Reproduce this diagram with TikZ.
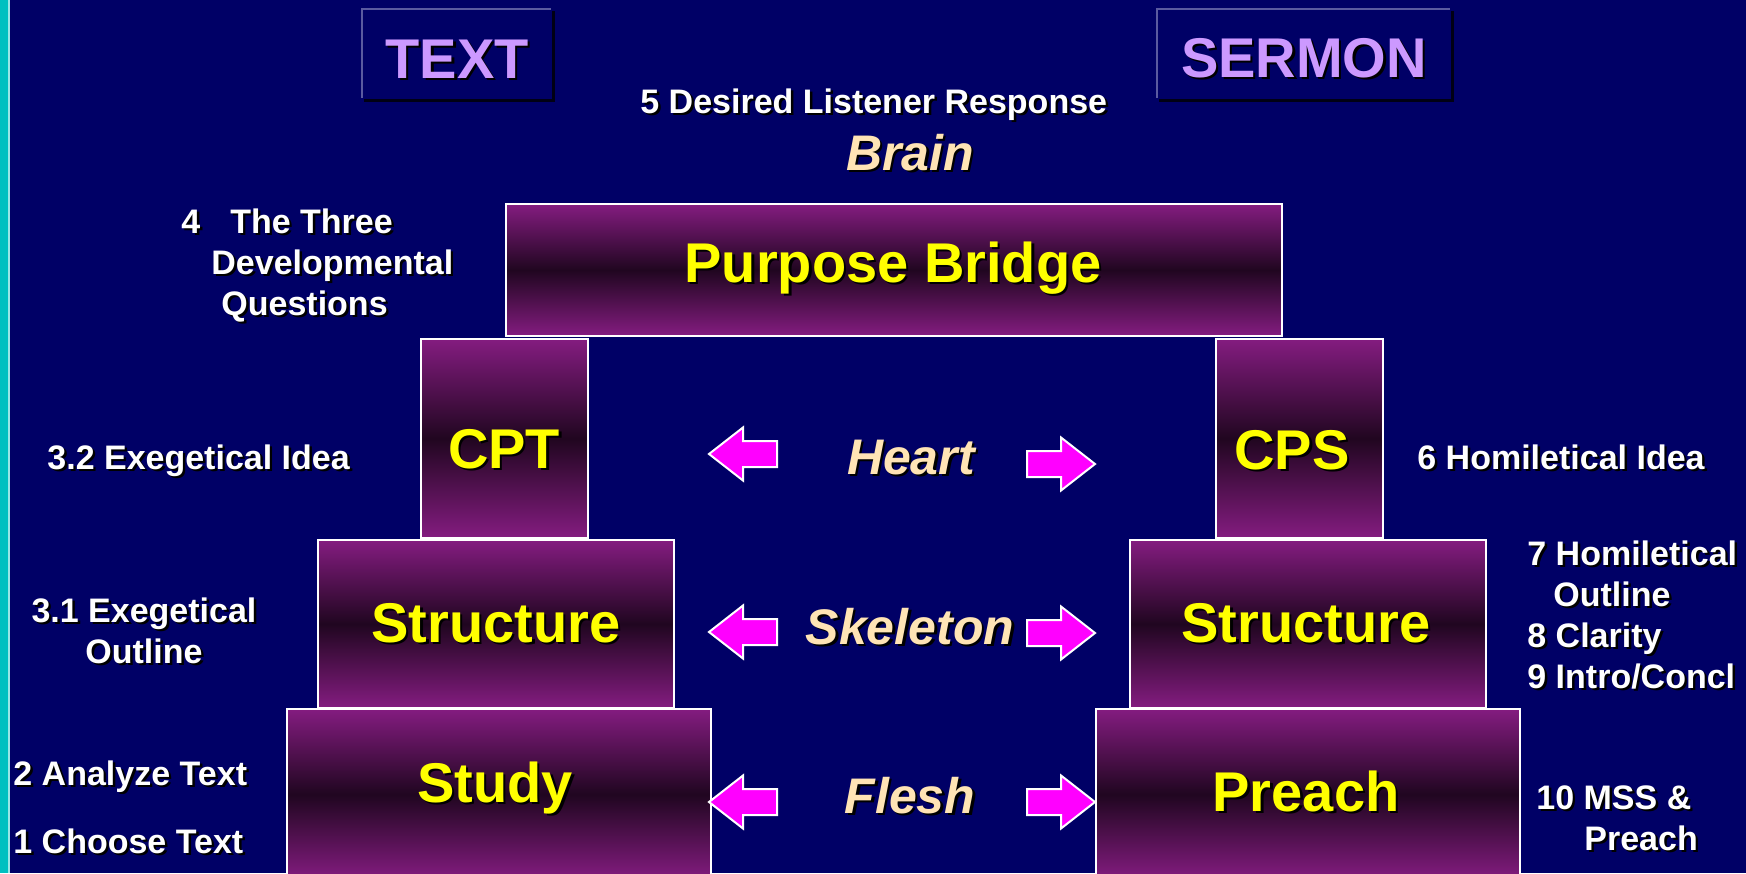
\documentclass[tikz,border=0pt]{standalone}
\usepackage{fontspec}
\setmainfont{Liberation Sans}

\definecolor{slidebg}{RGB}{0,0,102}
\definecolor{edgeteal}{RGB}{0,192,192}
\definecolor{slabpurple}{RGB}{132,28,128}
\definecolor{slabdark}{RGB}{32,6,32}
\definecolor{labelyellow}{RGB}{255,255,0}
\definecolor{wheat}{RGB}{255,228,181}
\definecolor{lilac}{RGB}{204,153,255}
\definecolor{arrowpink}{RGB}{255,0,255}
\definecolor{headedge}{RGB}{90,90,160}

% text with a small drop shadow
\newcommand\dropsh[1]{\rlap{\hspace{1.2pt}\raisebox{-1.2pt}{\color{black}#1}}#1}

\tikzset{
  pics/blockarrow/.style={code={
    \draw[fill=arrowpink, draw=white, line width=1pt]
      (-34,-13) -- (0,-13) -- (0,-26.5) -- (34,0) -- (0,26.5) -- (0,13) -- (-34,13) -- cycle;
  }}
}

\begin{document}
\begin{tikzpicture}[x=0.5pt, y=-0.5pt,
  slab/.style={draw=white, line width=1pt, top color=slabpurple, bottom color=slabpurple, middle color=slabdark},
  boxlabel/.style={inner sep=0pt, anchor=base, text=labelyellow, font={\fontsize{28}{32}\selectfont\bfseries}},
  bodylabel/.style={inner sep=0pt, anchor=base, text=wheat, font={\fontsize{25}{30}\selectfont\bfseries\itshape}},
  steplabel/.style={inner sep=0pt, anchor=base west, text=white, font={\fontsize{17}{20.5}\selectfont\bfseries}},
  headlabel/.style={inner sep=0pt, anchor=base, text=lilac, font={\fontsize{28}{32}\selectfont\bfseries}}]

\useasboundingbox (0,0) rectangle (1746,873);
\clip (0,0) rectangle (1746,873);
\fill[slidebg] (0,0) rectangle (1746,873);
\fill[edgeteal] (0,0) rectangle (8,873);
\draw[white!60!edgeteal, line width=0.6pt] (9,0) -- (9,873);

% headings
\draw[black!80!slidebg, line width=1.5pt] (364,100) -| (553,11);
\draw[headedge, line width=1pt] (362,98) |- (551,9);
\node[headlabel] (text) at (457,78) {\dropsh{TEXT}};
\draw[black!80!slidebg, line width=1.5pt] (1159,100) -| (1452,11);
\draw[headedge, line width=1pt] (1157,98) |- (1450,9);
\node[headlabel] (sermon) at (1304,77) {\dropsh{SERMON}};

% the bridge
\draw[slab] (506,204) rectangle (1282,336);
\draw[slab] (421,339) rectangle (588,538);
\draw[slab] (1216,339) rectangle (1383,538);
\draw[slab] (318,540) rectangle (674,708);
\draw[slab] (1130,540) rectangle (1486,708);
\draw[slab] (287,709) rectangle (711,880);
\draw[slab] (1096,709) rectangle (1520,880);

\node[boxlabel] (bridge) at (893,282) {\dropsh{Purpose Bridge}};
\node[boxlabel] (cpt) at (504,468) {\dropsh{CPT}};
\node[boxlabel] (cps) at (1292,469) {\dropsh{CPS}};
\node[boxlabel] (structtext) at (496,642) {\dropsh{Structure}};
\node[boxlabel] (structsermon) at (1306,642) {\dropsh{Structure}};
\node[boxlabel] (study) at (495,802) {\dropsh{Study}};
\node[boxlabel] (preach) at (1306,811) {\dropsh{Preach}};

% middle column
\node[bodylabel] (brain) at (910,170) {\dropsh{Brain}};
\node[bodylabel] (heart) at (911,474) {\dropsh{Heart}};
\node[bodylabel] (skeleton) at (910,644) {\dropsh{Skeleton}};
\node[bodylabel] (flesh) at (910,813) {\dropsh{Flesh}};

\pic[xscale=-1] at (743,454) {blockarrow};
\pic at (1061,464) {blockarrow};
\pic[xscale=-1] at (743,632) {blockarrow};
\pic at (1061,633) {blockarrow};
\pic[xscale=-1] at (743,802) {blockarrow};
\pic at (1061,802) {blockarrow};

% steps (multi-line nodes sit on their last line)
\node[steplabel] (response) at (640,113) {\dropsh{5 Desired Listener Response}};
\node[steplabel, align=left] (questions) at (181,315)
  {\dropsh{4\hspace{15pt}The Three}\\\hspace{15pt}\dropsh{Developmental}\\\hspace{20pt}\dropsh{Questions}};
\node[steplabel] (exidea) at (47,469) {\dropsh{3.2 Exegetical Idea}};
\node[steplabel, anchor=base, align=center] (exoutline) at (144,663)
  {\dropsh{3.1 Exegetical}\\\dropsh{Outline}};
\node[steplabel] (analyze) at (13,785) {\dropsh{2 Analyze Text}};
\node[steplabel] (choose) at (13,853) {\dropsh{1 Choose Text}};
\node[steplabel] (homidea) at (1417,469) {\dropsh{6 Homiletical Idea}};
\node[steplabel, align=left] (homoutline) at (1527,688)
  {\dropsh{7 Homiletical}\\\hspace{13pt}\dropsh{Outline}\\\dropsh{8 Clarity}\\\dropsh{9 Intro/Concl}};
\node[steplabel, align=left] (mss) at (1536,850)
  {\dropsh{10 MSS \&}\\\hspace{24pt}\dropsh{Preach}};
\end{tikzpicture}
\end{document}
